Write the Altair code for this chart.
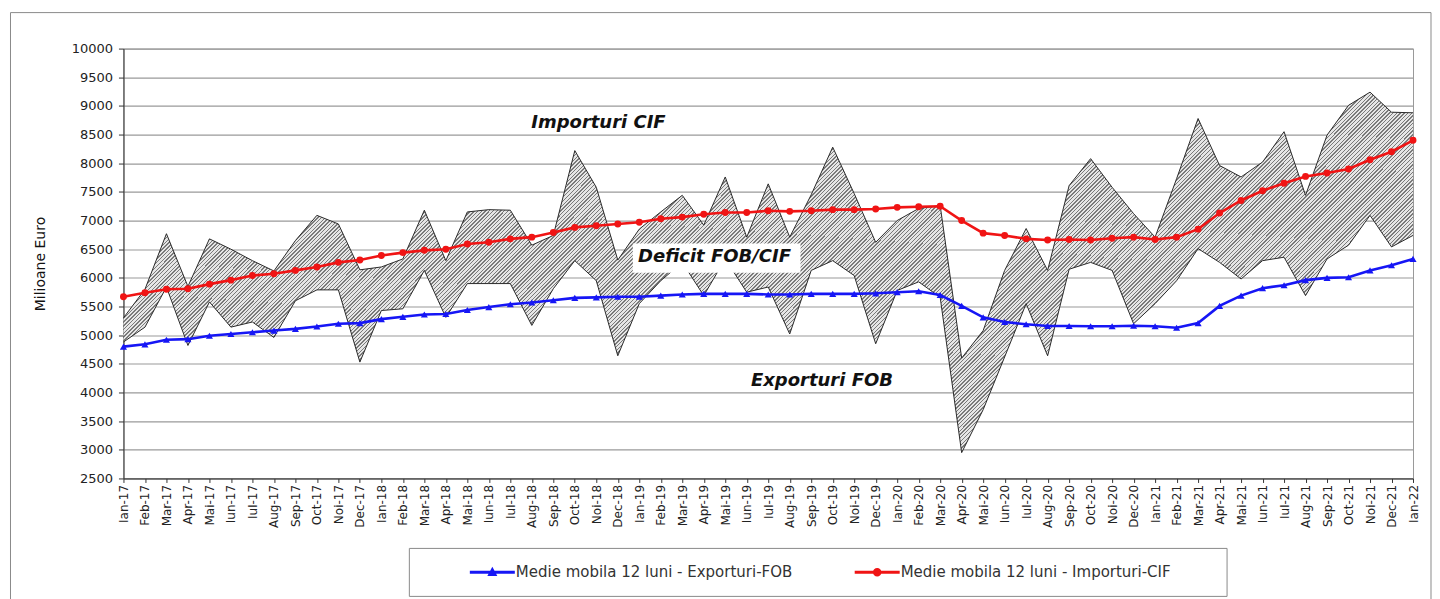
import json
import altair as alt
import pandas as pd

# ---------------- data ----------------
months = [
    "Ian-17", "Feb-17", "Mar-17", "Apr-17", "Mai-17", "Iun-17", "Iul-17", "Aug-17", "Sep-17", "Oct-17", "Noi-17", "Dec-17",
    "Ian-18", "Feb-18", "Mar-18", "Apr-18", "Mai-18", "Iun-18", "Iul-18", "Aug-18", "Sep-18", "Oct-18", "Noi-18", "Dec-18",
    "Ian-19", "Feb-19", "Mar-19", "Apr-19", "Mai-19", "Iun-19", "Iul-19", "Aug-19", "Sep-19", "Oct-19", "Noi-19", "Dec-19",
    "Ian-20", "Feb-20", "Mar-20", "Apr-20", "Mai-20", "Iun-20", "Iul-20", "Aug-20", "Sep-20", "Oct-20", "Noi-20", "Dec-20",
    "Ian-21", "Feb-21", "Mar-21", "Apr-21", "Mai-21", "Iun-21", "Iul-21", "Aug-21", "Sep-21", "Oct-21", "Noi-21", "Dec-21",
    "Ian-22",
]

importuri_cif = [
    5300, 5800, 6770, 5850, 6680, 6500, 6300, 6120, 6650, 7090, 6940, 6140,
    6190, 6330, 7180, 6300, 7150, 7190, 7180, 6570, 6740, 8220, 7580, 6310,
    6850, 7150, 7440, 6920, 7760, 6710, 7640, 6710, 7450, 8280, 7470, 6620,
    7000, 7210, 7260, 4600, 5080, 6130, 6860, 6130, 7610, 8080, 7580, 7120,
    6710, 7730, 8780, 7960, 7760, 8020, 8550, 7440, 8490, 9010, 9240, 8890,
    8880,
]

exporturi_fob = [
    4880, 5140, 5840, 4820, 5580, 5140, 5230, 4960, 5600, 5790, 5790, 4530,
    5430, 5460, 6130, 5310, 5900, 5900, 5900, 5170, 5810, 6300, 5950, 4640,
    5550, 5950, 6270, 5690, 6330, 5750, 5840, 5020, 6130, 6300, 6040, 4850,
    5780, 5930, 5660, 2950, 3700, 4620, 5550, 4640, 6150, 6270, 6130, 5200,
    5550, 5950, 6510, 6270, 5980, 6300, 6360, 5690, 6330, 6570, 7090, 6540,
    6740,
]

medie_exporturi = [
    4800, 4840, 4920, 4930, 4990, 5020, 5050, 5080, 5110, 5150, 5200, 5210,
    5280, 5320, 5360, 5370, 5440, 5490, 5540, 5570, 5610, 5650, 5660, 5670,
    5670, 5690, 5710, 5720, 5720, 5720, 5710, 5710, 5720, 5720, 5720, 5730,
    5750, 5765, 5700, 5510, 5310, 5230, 5190, 5160, 5160, 5155, 5155, 5165,
    5155, 5130, 5210, 5510, 5690, 5820, 5870, 5960, 6000, 6010, 6130, 6220,
    6330,
]

medie_importuri = [
    5670, 5740, 5800, 5810, 5890, 5960, 6040, 6070, 6130, 6190, 6270, 6310,
    6390, 6440, 6480, 6500, 6590, 6620, 6680, 6710, 6790, 6880, 6910, 6940,
    6970, 7030, 7060, 7110, 7140, 7140, 7170, 7160, 7170, 7190, 7190, 7200,
    7230, 7240, 7250, 7000, 6780, 6740, 6680, 6660, 6670, 6660, 6690, 6710,
    6670, 6710, 6850, 7130, 7350, 7520, 7650, 7770, 7830, 7900, 8060, 8200,
    8400,
]

series_names = ["Medie mobila 12 luni - Exporturi-FOB", "Medie mobila 12 luni - Importuri-CIF"]

ann_text = ["Importuri CIF", "Deficit FOB/CIF", "Exporturi FOB"]
ann_idx = [22.1, 27.5, 32.5]
ann_val = [8709, 6355, 4192]

# box behind "Deficit FOB/CIF"
box_idx = [23.7]
box_idx2 = [31.5]
box_val = [6600]
box_val2 = [6090]

# ---------------- styles ----------------
BLUE = "#1616f5"
RED = "#f01414"
HATCH_LINE = "#7a7a7a"
HATCH_BG = "#e6e6e6"
FONT = "DejaVu Sans"
Y_TITLE = "Milioane Euro"

df = pd.DataFrame({
    "idx": list(range(len(months))),
    "luna": months,
    "imp": importuri_cif,
    "exp": exporturi_fob,
    "ma_exp": medie_exporturi,
    "ma_imp": medie_importuri,
})
ann_df = pd.DataFrame({"idx": ann_idx, "val": ann_val, "txt": ann_text})
box_df = pd.DataFrame({"idx": box_idx, "idx2": box_idx2, "val": box_val, "val2": box_val2})
legend_df = pd.DataFrame({"series": series_names, "idx": [0, 0], "val": [5000, 5000]})
one = pd.DataFrame({"a": [0]})

# diagonal hatching as a striped linear gradient
N_STRIPES = 440
stops = []
for k in range(N_STRIPES):
    o0 = round(k / N_STRIPES, 6)
    o1 = round((k + 0.38) / N_STRIPES, 6)
    o2 = round((k + 1) / N_STRIPES, 6)
    stops += [
        alt.GradientStop(offset=o0, color=HATCH_LINE),
        alt.GradientStop(offset=o1, color=HATCH_LINE),
        alt.GradientStop(offset=o1, color=HATCH_BG),
        alt.GradientStop(offset=o2, color=HATCH_BG),
    ]
hatch = alt.LinearGradient(gradient="linear", stops=stops, x1=0, y1=0, x2=1.187, y2=0.331)

label_expr = json.dumps(months) + "[datum.value]"

x_axis = alt.Axis(
    values=list(range(len(months))), labelExpr=label_expr, labelAngle=270,
    labelOverlap=False, labelFlush=False, title=None, grid=False,
    tickSize=4, labelPadding=2, labelFontSize=12, labelColor="#222",
    domainColor="#333", tickColor="#333",
)
y_axis = alt.Axis(
    values=list(range(2500, 10001, 500)), format="d", title=Y_TITLE, grid=True,
    gridColor="#9a9a9a", gridWidth=1.2, tickSize=5, labelPadding=6, labelFontSize=13, labelColor="#222",
    titleFontSize=14, titleFontWeight="normal", titleColor="#111", titlePadding=24,
    domainColor="#333", tickColor="#333",
)
x_scale = alt.Scale(domain=[0, len(months) - 1], nice=False, zero=False)
y_scale = alt.Scale(domain=[2500, 10000], nice=False, zero=False)


def X():
    return alt.X("idx:Q", scale=x_scale, axis=x_axis, title=None)


def Y(field):
    return alt.Y(field, scale=y_scale, axis=y_axis, title=Y_TITLE)


frame = alt.Chart(one).mark_rect(fill="white", fillOpacity=0, stroke="#8a8a8a", strokeWidth=1).encode(
    x=alt.value(-113), x2=alt.value(1308), y=alt.value(-36), y2=alt.value(560)
)

legend_box = alt.Chart(one).mark_rect(fill="white", stroke="#8a8a8a", strokeWidth=1).encode(
    x=alt.value(286), x2=alt.value(1104), y=alt.value(500), y2=alt.value(548)
)

area = alt.Chart(df).mark_area(color=hatch, opacity=1).encode(
    x=X(), y=Y("imp:Q"), y2="exp:Q",
)
imp_line = alt.Chart(df).mark_line(color="#2a2a2a", strokeWidth=1).encode(x=X(), y=Y("imp:Q"))
exp_line = alt.Chart(df).mark_line(color="#2a2a2a", strokeWidth=1).encode(x=X(), y=Y("exp:Q"))

box = alt.Chart(box_df).mark_rect(fill="white").encode(
    x=X(), x2="idx2:Q", y=Y("val:Q"), y2="val2:Q",
)

ma_imp_line = alt.Chart(df).mark_line(color=RED, strokeWidth=2.6).encode(x=X(), y=Y("ma_imp:Q"))
ma_imp_pts = alt.Chart(df).mark_point(shape="circle", filled=True, size=48, color=RED, opacity=1).encode(
    x=X(), y=Y("ma_imp:Q")
)
ma_exp_line = alt.Chart(df).mark_line(color=BLUE, strokeWidth=2.6).encode(x=X(), y=Y("ma_exp:Q"))
ma_exp_pts = alt.Chart(df).mark_point(shape="triangle-up", filled=True, size=50, color=BLUE, opacity=1).encode(
    x=X(), y=Y("ma_exp:Q")
)

texts = alt.Chart(ann_df).mark_text(
    font=FONT, fontSize=18, fontWeight="bold", fontStyle="italic", color="#111",
    align="center", baseline="middle",
).encode(x=X(), y=Y("val:Q"), text="txt:N")

# legend-only layer (no visible data): symbols are line + marker paths
sym_tri = "M-4.5,-0.3H4.5V0.3H-4.5Z M0,-1.1L1,0.75H-1Z"
sym_circ = "M-4.5,-0.3H4.5V0.3H-4.5Z M0.85,0A0.85,0.85,0,1,1,-0.85,0A0.85,0.85,0,1,1,0.85,0Z"
leg = alt.Legend(
    orient="none", legendX=343.5, legendY=516, direction="horizontal", title=None,
    symbolSize=100, symbolStrokeWidth=0, symbolOffset=18, labelOffset=16,
    columnPadding=59, labelFont=FONT, labelFontSize=15, labelColor="#333",
    padding=0, symbolOpacity=1, labelLimit=0,
)
legend_layer = alt.Chart(legend_df).transform_filter("false").mark_point(filled=True, opacity=1).encode(
    x=X(), y=Y("val:Q"),
    color=alt.Color("series:N", scale=alt.Scale(domain=series_names, range=[BLUE, RED]), legend=leg),
    shape=alt.Shape("series:N", scale=alt.Scale(domain=series_names, range=[sym_tri, sym_circ]), legend=leg),
)

chart = alt.layer(
    frame, legend_box, area, imp_line, exp_line, box,
    ma_imp_line, ma_imp_pts, ma_exp_line, ma_exp_pts, texts, legend_layer,
).properties(
    width=1290, height=430,
    padding={"left": 1.5, "top": 3.5, "right": 0, "bottom": 0},
    background="white",
).configure_view(
    stroke="#9a9a9a", strokeWidth=1
).configure_axis(
    labelFont=FONT, titleFont=FONT,
)

chart.save("out.html", embed_options={"renderer": "svg", "actions": False})
